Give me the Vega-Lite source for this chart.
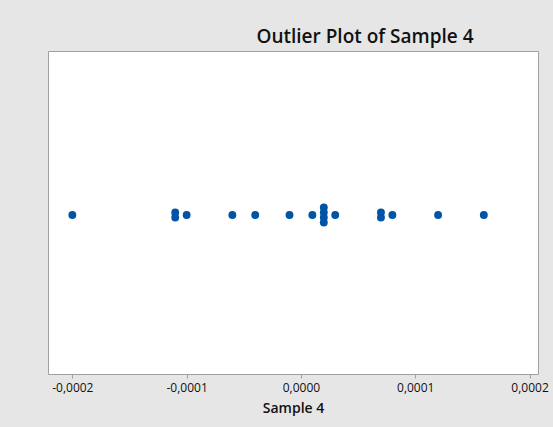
{
  "$schema": "https://vega.github.io/schema/vega-lite/v6.json",
  "autosize": "none",
  "width": 490,
  "height": 323,
  "padding": {"left": 48, "top": 51, "right": 15, "bottom": 53},
  "background": "#e6e6e6",
  "title": {
    "text": "Outlier Plot of Sample 4",
    "anchor": "middle",
    "dx": 72,
    "offset": 4,
    "font": "Open Sans",
    "fontSize": 19,
    "fontWeight": 600,
    "color": "#111111"
  },
  "data": {
    "values": [
      {"sample4": -0.0002},
      {"sample4": -0.00011},
      {"sample4": -0.00011},
      {"sample4": -0.0001},
      {"sample4": -0.00006},
      {"sample4": -0.00004},
      {"sample4": -0.00001},
      {"sample4": 0.00001},
      {"sample4": 0.00002},
      {"sample4": 0.00002},
      {"sample4": 0.00002},
      {"sample4": 0.00002},
      {"sample4": 0.00003},
      {"sample4": 0.00007},
      {"sample4": 0.00007},
      {"sample4": 0.00008},
      {"sample4": 0.00012},
      {"sample4": 0.00016}
    ]
  },
  "transform": [
    {"window": [{"op": "row_number", "as": "k"}], "groupby": ["sample4"]},
    {"joinaggregate": [{"op": "count", "as": "n"}], "groupby": ["sample4"]},
    {"calculate": "datum.k - (datum.n + 1) / 2", "as": "stackPos"}
  ],
  "mark": {"type": "point", "filled": true, "opacity": 1, "size": 62, "color": "#0054a6"},
  "encoding": {
    "x": {
      "field": "sample4",
      "type": "quantitative",
      "title": "Sample 4",
      "scale": {"domain": [-0.0002213, 0.0002074], "nice": false, "zero": false},
      "axis": {
        "values": [-0.0002, -0.0001, 0, 0.0001, 0.0002],
        "labelExpr": "replace(replace(format(datum.value, '.4f'), '.', ','), '\u2212', '-')",
        "domain": false,
        "grid": false,
        "tickColor": "#a0a0a0",
        "tickSize": 4,
        "labelFont": "Open Sans",
        "labelFontSize": 12,
        "labelColor": "#111111",
        "labelPadding": 4,
        "titleFont": "Open Sans",
        "titleFontSize": 14,
        "titleFontWeight": 600,
        "titleColor": "#111111",
        "titlePadding": 8
      }
    },
    "y": {
      "field": "stackPos",
      "type": "quantitative",
      "scale": {"domain": [-31.8, 32.8], "nice": false, "zero": false},
      "axis": null
    }
  },
  "config": {
    "view": {"fill": "white", "stroke": "#a0a0a0", "strokeWidth": 1}
  }
}
